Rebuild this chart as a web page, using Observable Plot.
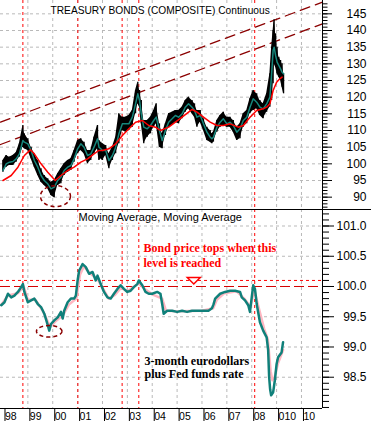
<!DOCTYPE html>
<html><head><meta charset="utf-8">
<script src="https://cdn.jsdelivr.net/npm/d3@7"></script>
<script src="https://cdn.jsdelivr.net/npm/@observablehq/plot@0.6"></script>
<style>
body{margin:0;background:#fff;}
#wrap{position:relative;width:371px;height:424px;overflow:hidden;background:#fff;}
#top{position:absolute;left:0;top:0;}
#bot{position:absolute;left:0;top:209px;}
#sep{position:absolute;left:0;top:209px;width:371px;height:1px;background:#000;}
</style></head><body>
<div id="wrap"><div id="top"></div><div id="bot"></div><div id="sep"></div></div>
<script>
// ---------- data ----------
const topTitle = "TREASURY BONDS (COMPOSITE) Continuous";
const botTitle = "Moving Average, Moving Average";
const noteRed = "Bond price tops when this\nlevel is reached";
const noteBlack = "3-month eurodollars\nplus Fed funds rate";

const tickYears = [1998,1999,2000,2001,2002,2003,2004,2005,2006,2007,2008,2009,2010];
const tickLabels = ["98","99","00","01","02","03","04","05","06","07","08","010","10"];
const gridYears = [1999,2000,2001,2002,2003,2004,2005,2006,2007,2008,2009,2010];
const markerYears = [1998.80, 2001.01, 2002.79, 2003.46, 2008.12];

const priceTicks = [90,95,100,105,110,115,120,125,130,135,140,145];
const rateTicks = [98.5,99.0,99.5,100.0,100.5,101.0];
const rateGrid = [98.5,99.0,99.5,100.5,101.0];

// bond price bars (decimal year, high, low) and short moving average (teal)
const priceYears = [1998.00,1998.13,1998.26,1998.40,1998.53,1998.66,1998.80,1998.86,1999.00,1999.13,1999.26,1999.40,1999.53,1999.66,1999.80,1999.93,2000.06,2000.20,2000.33,2000.46,2000.60,2000.73,2000.86,2001.00,2001.13,2001.26,2001.40,2001.53,2001.66,2001.80,2001.86,2001.93,2002.00,2002.13,2002.26,2002.40,2002.53,2002.66,2002.80,2002.93,2003.06,2003.20,2003.33,2003.42,2003.49,2003.56,2003.66,2003.80,2003.93,2004.06,2004.16,2004.29,2004.40,2004.53,2004.66,2004.80,2004.93,2005.06,2005.20,2005.33,2005.46,2005.60,2005.70,2005.80,2005.93,2006.06,2006.20,2006.33,2006.40,2006.46,2006.60,2006.73,2006.86,2007.00,2007.13,2007.26,2007.40,2007.53,2007.66,2007.80,2007.93,2008.06,2008.20,2008.33,2008.46,2008.60,2008.73,2008.80,2008.86,2008.90,2008.96,2009.02,2009.09,2009.16,2009.22,2009.28];
const priceHigh = [101,102.5,102,102.5,103.3,106,111.5,109,107.5,105,103,101,98.5,96.5,95.5,94.5,95,97,98.5,100,101,101.5,104,107,107.5,106.5,104,104,108,111.5,107,106.5,106,105.5,103,105,108,115,114,114,114.5,116,122,124.5,122,119,113,113,114,116,118,112,109,112,115,115.5,116,116,117,119,120,119,118,116,116,113.5,111,110,109,109.5,113,114.5,115.5,114,114,113,111,112,115,116,119.5,122,121,119,118,121,127,135,140,143.2,139,135,132,131,130,127];
const priceLow = [97.5,99,99.5,99.5,100.5,102,105,104.5,104,101.5,99,96.5,94.5,93.5,92.5,90.5,89.8,93.5,94,96.5,97.5,98,100.5,103,104,103,100,101,103,104.5,101,101.5,101,102.5,98.5,101,103,106,110,109.5,110,111,115,118,117,112,106,108,109,111,112,105,104.5,108.5,111,111.5,112.5,112,113.5,115.5,116.5,115,114,111,112.5,110,107,106.5,106,106.5,109.5,111,111.5,111,111,109.5,107,107.5,111,112,115,116,116.5,114.5,113.5,115.5,117,119,124,130,129,127,126,125,123,121];
const priceAvg = [98,100,100.5,100.7,101.5,103,107,106.5,106,104,101,99,96.5,95,94,92.5,93,95,96,98,99,99.5,101.5,104.5,106,105,102.5,103,105,107.5,105,104.5,104,104,101,102.5,105,109,112,112,112,114,118,121,119,115,111,110.5,111.5,113,114,110,107,110,112.5,113.5,114.5,114,115,117,118,117,116,114,114.5,112,109.5,108,107.5,108,111,112.5,113.5,112,112.5,111.5,109.5,110.5,113,114,117,119.5,118.5,117,116.5,118,120,127,134,135,132.5,130.5,129.5,128.5,127.5,127];

// long moving average (red)
const maYears = [1998.00,1998.33,1998.60,1998.86,1999.10,1999.26,1999.53,1999.80,2000.10,2000.33,2000.60,2000.86,2001.13,2001.40,2001.66,2001.85,2002.00,2002.26,2002.53,2002.80,2003.06,2003.33,2003.60,2003.86,2004.13,2004.33,2004.66,2004.93,2005.20,2005.46,2005.60,2005.80,2006.06,2006.33,2006.60,2006.86,2007.13,2007.46,2007.66,2007.93,2008.20,2008.46,2008.60,2008.73,2008.86,2009.00,2009.13,2009.22];
const maValues = [95,96.5,99,102.5,104.2,103,100,97.5,95,96.5,98,99,100.5,101.5,103,104,104,104.5,106,108.5,110.5,112.5,113,111.5,111,110,111,112.5,114,115.5,116.3,115.5,114,112.5,111.5,111.5,112,111,111.5,114,116,116.5,117,118,122,124.5,125.5,126];

// channel lines (start/end: decimal year, price)
const upperYears = [1997.9, 2010.845];
const upperValues = [112.5, 148.5];
const lowerYears = [1997.9, 2010.845];
const lowerValues = [105.8, 142.0];

// eurodollar + fed funds composite (teal) and its smoother (pink)
const rateYears = [1997.93,1998.06,1998.20,1998.33,1998.46,1998.60,1998.73,1998.80,1998.86,1999.00,1999.13,1999.26,1999.40,1999.53,1999.66,1999.80,1999.86,1999.93,2000.06,2000.20,2000.33,2000.40,2000.46,2000.60,2000.73,2000.86,2000.93,2001.00,2001.06,2001.20,2001.33,2001.46,2001.60,2001.73,2001.80,2001.93,2002.06,2002.20,2002.33,2002.46,2002.60,2002.73,2002.86,2003.00,2003.13,2003.26,2003.40,2003.46,2003.60,2003.73,2003.86,2004.00,2004.20,2004.33,2004.40,2004.46,2004.60,2004.80,2005.00,2005.20,2005.40,2005.60,2005.80,2006.00,2006.26,2006.40,2006.46,2006.53,2006.73,2006.93,2007.13,2007.33,2007.53,2007.60,2007.73,2007.86,2007.93,2008.00,2008.06,2008.13,2008.20,2008.33,2008.46,2008.60,2008.66,2008.70,2008.74,2008.78,2008.86,2008.93,2009.00,2009.06,2009.20,2009.26];
const rateValues = [99.69,99.74,99.88,99.82,99.85,99.91,99.99,100.04,99.91,99.74,99.77,99.80,99.71,99.66,99.55,99.36,99.27,99.38,99.44,99.49,99.58,99.47,99.60,99.74,99.80,99.80,99.85,100.10,100.26,100.37,100.32,100.21,100.24,100.10,100.18,100.04,99.91,99.82,99.80,99.88,99.96,100.02,99.96,99.91,99.93,99.99,100.04,100.10,100.02,99.91,99.88,99.88,99.91,99.88,99.71,99.55,99.60,99.60,99.58,99.60,99.58,99.60,99.60,99.60,99.60,99.64,99.70,99.80,99.88,99.91,99.93,99.93,99.91,99.82,99.77,99.69,99.58,99.82,100.02,99.96,99.71,99.41,99.27,99.16,98.95,98.50,98.30,98.20,98.25,98.45,98.72,98.83,98.91,99.08];
const smoothYears = [1997.93,1998.20,1998.60,1998.83,1999.00,1999.30,1999.60,1999.90,2000.10,2000.40,2000.65,2000.95,2001.10,2001.25,2001.50,2001.80,2002.00,2002.25,2002.50,2002.75,2003.00,2003.45,2003.70,2004.00,2004.40,2004.55,2005.00,2006.00,2006.45,2006.60,2006.90,2007.40,2007.70,2007.95,2008.10,2008.30,2008.50,2008.65,2008.76,2008.83,2008.92,2009.05,2009.26];
const smoothValues = [99.70,99.85,99.89,100.00,99.78,99.78,99.60,99.33,99.42,99.52,99.70,99.80,100.20,100.33,100.22,100.12,99.98,99.80,99.86,99.98,99.92,100.05,99.96,99.87,99.80,99.60,99.59,99.60,99.64,99.78,99.89,99.92,99.80,99.66,99.95,99.62,99.30,99.12,98.60,98.45,98.50,98.72,98.95];

const topLevel = 100.10;   // "bond price tops" level
const parLevel = 100.0;
const triangleAt = {year: 2005.67, v: 100.10};
const circleTop = {year: 2000.11, v: 90.3};
const circleBot = {year: 1999.86, v: 99.26};

// ---------- build ----------
const xDomain = [1997.9, 2010.845];
const priceDomain = [86.3, 149.0];
const rateDomain = [97.983, 101.273];

const priceData = priceYears.map((y, i) => ({year: y, high: priceHigh[i], low: priceLow[i], avg: priceAvg[i]}));
const maData = maYears.map((y, i) => ({year: y, v: maValues[i]}));
const upperData = upperYears.map((y, i) => ({year: y, v: upperValues[i]}));
const lowerData = lowerYears.map((y, i) => ({year: y, v: lowerValues[i]}));
const rateData = rateYears.map((y, i) => ({year: y, v: rateValues[i]}));
const smoothData = smoothYears.map((y, i) => ({year: y, v: smoothValues[i]}));
const priceMinor = d3.range(87, 149, 1);
const rateMinor = d3.range(980, 1013, 1).map(d => d / 10);
const labelFor = new Map(tickYears.map((y, i) => [y, tickLabels[i]]));

function ellipse(rx, ry) {
  const k = 0.5523;
  return {draw(c) {
    c.moveTo(rx, 0);
    c.bezierCurveTo(rx, ry * k, rx * k, ry, 0, ry);
    c.bezierCurveTo(-rx * k, ry, -rx, ry * k, -rx, 0);
    c.bezierCurveTo(-rx, -ry * k, -rx * k, -ry, 0, -ry);
    c.bezierCurveTo(rx * k, -ry, rx, -ry * k, rx, 0);
    c.closePath();
  }};
}
const downTriangle = {draw(c) { c.moveTo(-6.5, -3); c.lineTo(6.5, -3); c.lineTo(0, 3.5); c.closePath(); }};

const SANS = "'Liberation Sans', Arial, sans-serif";
const SERIF = "'Liberation Serif', 'Times New Roman', serif";
const GRID = "#b9b9b9";

const topChart = Plot.plot({
  width: 371, height: 209,
  marginLeft: 0, marginRight: 49, marginTop: 0, marginBottom: 0,
  x: {domain: xDomain, axis: null},
  y: {domain: priceDomain},
  style: {fontFamily: SANS, fontSize: "12px", background: "transparent"},
  marks: [
    Plot.ruleY(priceTicks, {stroke: GRID, strokeDasharray: "3,3"}),
    Plot.ruleX(gridYears, {stroke: GRID, strokeDasharray: "3,3"}),
    Plot.ruleX(markerYears, {stroke: "#ff0000", strokeDasharray: "3,3"}),
    Plot.line(upperData, {x: "year", y: "v", stroke: "#8b0000", strokeWidth: 1.3, strokeDasharray: "10,6"}),
    Plot.line(lowerData, {x: "year", y: "v", stroke: "#8b0000", strokeWidth: 1.3, strokeDasharray: "10,6"}),
    Plot.areaY(priceData, {x: "year", y1: "low", y2: "high", fill: "#000"}),
    Plot.ruleX(priceData, {x: "year", y1: "low", y2: "high", stroke: "#000", strokeWidth: 1.3}),
    Plot.line(priceData, {x: "year", y: "avg", stroke: "#16877c", strokeWidth: 1.5}),
    Plot.line(maData, {x: "year", y: "v", stroke: "#ff0000", strokeWidth: 1.5}),
    Plot.dot([circleTop], {x: "year", y: "v", symbol: ellipse(15, 10.5), fill: "none", stroke: "#8b0000", strokeDasharray: "4,3"}),
    Plot.text([topTitle], {frameAnchor: "top-left", dx: 50, dy: 6, lineAnchor: "top", textAnchor: "start", fontSize: 10.2, fill: "#000", stroke: "#fff", strokeWidth: 4}),
    Plot.ruleX([xDomain[1]], {stroke: "#000"}),
    Plot.axisY({anchor: "right", label: null, ticks: priceMinor, tickSize: 4.5, tickFormat: () => ""}),
    Plot.axisY({anchor: "right", label: null, ticks: priceTicks, tickSize: 9, tickPadding: 35, textAnchor: "end", fontSize: 12, tickFormat: d => String(d)})
  ]
});
document.getElementById("top").append(topChart);

const botChart = Plot.plot({
  width: 371, height: 215,
  marginLeft: 0, marginRight: 49, marginTop: 0, marginBottom: 16,
  x: {domain: xDomain},
  y: {domain: rateDomain},
  style: {fontFamily: SANS, fontSize: "12px", background: "transparent"},
  marks: [
    Plot.ruleY(rateGrid, {stroke: GRID, strokeDasharray: "3,3"}),
    Plot.ruleX(gridYears, {stroke: GRID, strokeDasharray: "3,3"}),
    Plot.ruleX(markerYears, {stroke: "#ff0000", strokeDasharray: "3,3"}),
    Plot.ruleY([parLevel], {stroke: "#d40000", strokeDasharray: "10,4"}),
    Plot.ruleY([topLevel], {stroke: "#ff0000", strokeDasharray: "3,3"}),
    Plot.line(smoothData, {x: "year", y: "v", stroke: "#ffb6c1", strokeWidth: 2.5}),
    Plot.line(rateData, {x: "year", y: "v", stroke: "#10807a", strokeWidth: 2.5}),
    Plot.dot([triangleAt], {x: "year", y: "v", symbol: downTriangle, fill: "#fff", stroke: "#ff0000", strokeWidth: 1.5}),
    Plot.dot([circleBot], {x: "year", y: "v", symbol: ellipse(12.8, 5.8), fill: "none", stroke: "#8b0000", strokeDasharray: "4,3"}),
    Plot.text([botTitle], {frameAnchor: "top-left", dx: 78, dy: 4, lineAnchor: "top", textAnchor: "start", fontSize: 11, fill: "#000", stroke: "#fff", strokeWidth: 4}),
    Plot.text([noteRed], {frameAnchor: "top-left", dx: 143, dy: 33, lineAnchor: "top", textAnchor: "start", fontSize: 12, fontWeight: "bold", fontFamily: SERIF, fill: "#ff0000", lineHeight: 1.17}),
    Plot.text([noteBlack], {frameAnchor: "top-left", dx: 144, dy: 146, lineAnchor: "top", textAnchor: "start", fontSize: 12, fontWeight: "bold", fontFamily: SERIF, fill: "#000", lineHeight: 1.12}),
    Plot.ruleX([xDomain[1]], {stroke: "#000"}),
    Plot.ruleY([rateDomain[0]], {stroke: "#000"}),
    Plot.axisY({anchor: "right", label: null, ticks: rateMinor, tickSize: 6, tickFormat: () => ""}),
    Plot.axisY({anchor: "right", label: null, ticks: rateTicks, tickSize: 11, tickPadding: 33, textAnchor: "end", fontSize: 12, tickFormat: d => d.toFixed(1)}),
    Plot.axisX({anchor: "bottom", label: null, ticks: tickYears, tickSize: 13, tickPadding: -9, textAnchor: "start", dx: 2, fontSize: 10.5, tickFormat: d => labelFor.get(d)})
  ]
});
document.getElementById("bot").append(botChart);
</script>
</body></html>
